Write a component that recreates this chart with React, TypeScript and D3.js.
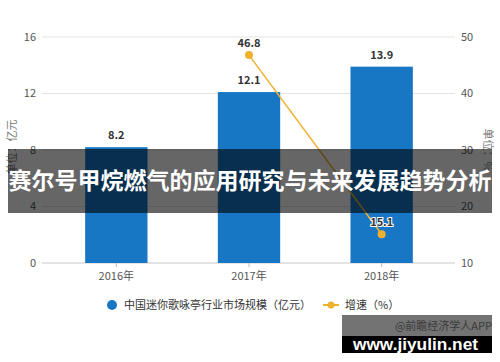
import React from 'react'
import * as d3 from 'd3'

const years = ['2016年', '2017年', '2018年']
const marketSize = [8.2, 12.1, 13.9]
// growth rate, no value for 2016
const growth: (number | null)[] = [null, 46.8, 15.1]
const leftTicks = [0, 4, 8, 12, 16]
const rightTicks = [10, 20, 30, 40, 50]

const W = 500
const H = 362
const margin = { top: 37, right: 45, bottom: 99, left: 42 }
const CJK = '"Noto Sans CJK SC", "Noto Sans", sans-serif'

const BLUE = '#1777c4'
const ORANGE = '#efb12e'

const App = () => {
  const x = d3
    .scaleBand()
    .domain(years)
    .range([50, 448])
    .paddingInner(0.53)
    .paddingOuter(0.265)

  const yL = d3
    .scaleLinear()
    .domain([0, 16])
    .range([H - margin.bottom, margin.top])

  const yR = d3
    .scaleLinear()
    .domain([10, 50])
    .range([H - margin.bottom, margin.top])

  const cx = (d: string) => (x(d) || 0) + x.bandwidth() / 2

  const growthPts = years
    .map((y, i) => ({ year: y, v: growth[i] }))
    .filter(d => d.v !== null) as { year: string; v: number }[]

  const line = d3
    .line<{ year: string; v: number }>()
    .x(d => cx(d.year))
    .y(d => yR(d.v))

  const x0 = margin.left
  const x1 = W - margin.right

  return (
    <svg
      width={W}
      height={H}
      viewBox={`0,0,${W},${H}`}
      style={{ position: 'absolute', left: 0, top: 0, background: '#fff' }}
      fontFamily={CJK}
    >
      {/* grid */}
      {leftTicks.map(t => (
        <line
          key={t}
          x1={x0}
          x2={x1}
          y1={yL(t)}
          y2={yL(t)}
          stroke={t === 0 ? '#c8c8c8' : '#e3e3e3'}
          strokeWidth={1}
        />
      ))}
      {leftTicks.map(t => (
        <text
          key={'l' + t}
          x={36}
          y={yL(t)}
          dy="0.35em"
          textAnchor="end"
          fontSize={11}
          fill="#555"
        >
          {t}
        </text>
      ))}
      {rightTicks.map(t => (
        <text key={'r' + t} x={461} y={yR(t)} dy="0.35em" fontSize={11} fill="#555">
          {t}
        </text>
      ))}

      {/* axis titles */}
      <text
        transform={`translate(16,${147}) rotate(-90)`}
        textAnchor="middle"
        fontSize={11}
        fill="#777"
      >
        单位：亿元
      </text>
      <text
        transform={`translate(484,${150}) rotate(90)`}
        textAnchor="middle"
        fontSize={11}
        fill="#777"
      >
        单位：%
      </text>

      {/* bars */}
      {years.map((y, i) => (
        <g key={y}>
          <rect
            x={x(y)}
            y={yL(marketSize[i])}
            width={x.bandwidth()}
            height={yL(0) - yL(marketSize[i])}
            fill={BLUE}
          />
          <text
            x={cx(y)}
            y={yL(marketSize[i]) - 8}
            textAnchor="middle"
            fontSize={11}
            fontWeight="bold"
            fill="#333"
          >
            {marketSize[i]}
          </text>
          <line x1={cx(y)} x2={cx(y)} y1={yL(0)} y2={yL(0) + 4} stroke="#bbb" />
          <text x={cx(y)} y={yL(0) + 17} textAnchor="middle" fontSize={11} fill="#555">
            {y}
          </text>
        </g>
      ))}

      {/* growth line */}
      <path d={line(growthPts) || ''} fill="none" stroke={ORANGE} strokeWidth={1.5} />
      {growthPts.map(d => (
        <g key={d.year}>
          <circle cx={cx(d.year)} cy={yR(d.v)} r={4} fill={ORANGE} />
          <text
            x={cx(d.year)}
            y={yR(d.v) - 8}
            textAnchor="middle"
            fontSize={11}
            fontWeight="bold"
            fill="#333"
            stroke="#fff"
            strokeWidth={d.v < 20 ? 2 : 0}
            paintOrder="stroke"
          >
            {d.v}
          </text>
        </g>
      ))}

      {/* legend */}
      <circle cx={112} cy={305} r={5} fill={BLUE} />
      <text x={124} y={305} dy="0.35em" fontSize={11} fill="#333">
        中国迷你歌咏亭行业市场规模（亿元）
      </text>
      <line x1={323} x2={339} y1={305} y2={305} stroke={ORANGE} strokeWidth={2} />
      <circle cx={331} cy={305} r={3.5} fill={ORANGE} />
      <text x={345} y={305} dy="0.35em" fontSize={11} fill="#333">
        增速（%）
      </text>

      {/* title overlay */}
      <rect x={8} y={149} width={484} height={64} fill="rgba(0,0,0,0.6)" />
      <text
        x={250}
        y={181}
        dy="0.35em"
        textAnchor="middle"
        fontSize={23}
        fontWeight="bold"
        fill="#fff"
      >
        赛尔号甲烷燃气的应用研究与未来发展趋势分析
      </text>

      {/* watermark */}
      <rect x={342} y={315} width={150} height={21} fill="rgba(0,0,0,0.55)" />
      <text x={492} y={330} textAnchor="end" fontSize={11} fill="#3a3a3a">
        @前瞻经济学人APP
      </text>
      <rect x={342} y={336} width={150} height={17} fill="#000" />
      <text
        x={353}
        y={350}
        fontSize={17}
        fontWeight="bold"
        fontFamily="'Liberation Sans', Arial, sans-serif"
        textLength={125}
        lengthAdjust="spacingAndGlyphs"
        fill="#fff"
      >
        www.jiyulin.net
      </text>
    </svg>
  )
}

export default App
